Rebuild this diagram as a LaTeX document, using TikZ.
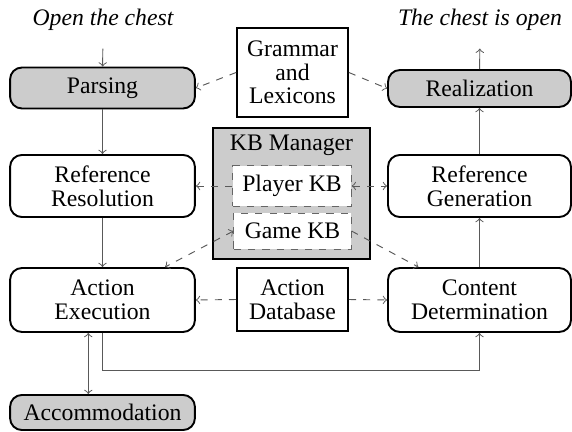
\documentclass[tikz,border=0pt]{standalone}
\usepackage{fontspec}
\setmainfont{Liberation Serif}
\tikzset{
  stage/.style={draw, line width=0.8pt, rounded corners=5pt, align=center,
    minimum width=78pt, inner sep=1pt, font=\fontsize{10}{10}\selectfont},
  shaded/.style={fill=black!20},
  resource/.style={draw, line width=0.8pt, align=center, inner sep=1pt,
    minimum width=46.8pt, font=\fontsize{10}{10}\selectfont},
  kb/.style={draw=black!60, dashed, fill=white, inner sep=1pt,
    minimum width=50pt, font=\fontsize{10}{10}\selectfont},
  flow/.style={black!65},
}
\begin{document}
\begin{tikzpicture}[x=0.422pt, y=-0.422pt]
        \useasboundingbox (0,0) rectangle (572,432);

        \node (input) at (103,20) {\itshape Open the chest};
        \node (output) at (480,20) {\itshape The chest is open};

        \node [stage, shaded, minimum height=17.3pt] (parsing) at (102.5,88) {Parsing};
        \node [stage, minimum height=26.2pt] (refres) at (102.5,186) {Reference\\Resolution};
        \node [stage, minimum height=27pt] (action) at (102.5,300) {Action\\Execution};
        \node [stage, shaded, minimum height=14.8pt] (accom) at (102.5,412.5) {Accommodation};

        \node [stage, shaded, minimum width=77.2pt, minimum height=15.6pt] (realization) at (479.5,88.5) {Realization};
        \node [stage, minimum width=77.2pt, minimum height=26.2pt] (refgen) at (479.5,186) {Reference\\Generation};
        \node [stage, minimum width=77.2pt, minimum height=27pt] (content) at (479.5,300) {Content\\Determination};

        \node [resource, minimum height=37.6pt] (grammar) at (292.5,72.5) {Grammar\\and\\Lexicons};
        \node [resource, fill=black!20, minimum width=66.3pt, minimum height=55.3pt] (kbm) at (291.5,193.5) {};
        \node [font=\fontsize{10}{10}\selectfont] (kblabel) at (291.5,145) {KB Manager};
        \node [kb, minimum height=16.9pt] (player) at (292,186) {Player KB};
        \node [kb, minimum width=49.4pt, minimum height=15.2pt] (game) at (292.5,231) {Game KB};
        \node [resource, minimum height=26.6pt] (actiondb) at (292.5,299.5) {Action\\Database};

        \coordinate (turn) at (102.5,370);

        % main pipeline
        \path [->, flow] (input) edge[shorten <=4pt] (parsing);
        \path [->, flow] (parsing) edge (refres);
        \path [->, flow] (refres) edge (action);
        \path [->, flow] (content) edge (refgen);
        \path [->, flow] (refgen) edge (realization);
        \path [->, flow] (realization) edge[shorten >=4pt] (output);
        \draw [->, flow] (action) -- (turn) -| (content);
        \path [<->, flow] ([xshift=-6pt]action.south) edge ([xshift=-6pt]accom.north);

        % resources
        \path [->, flow, dashed] (grammar.west) edge (parsing.east);
        \path [->, flow, dashed] (grammar.east) edge (realization.west);
        \path [->, flow, dashed] (player.west) edge (refres);
        \path [<->, flow, dashed] (player.east) edge (refgen);
        \path [<->, flow, dashed] (game.west) edge (action);
        \path [->, flow, dashed] (game.east) edge (content);
        \path [->, flow, dashed] (actiondb.west) edge (action.east);
        \path [->, flow, dashed] (actiondb.east) edge (content.west);
\end{tikzpicture}
\end{document}
